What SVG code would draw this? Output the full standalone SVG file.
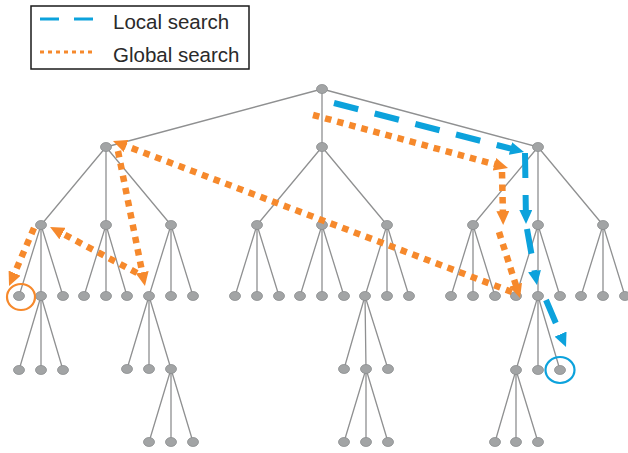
<svg xmlns="http://www.w3.org/2000/svg" width="628" height="453" viewBox="0 0 628 453">
  <style>
    .edge { stroke: #8f9091; stroke-width: 1.3; fill: none; }
    .node { fill: #a2a4a5; stroke: #8c8e8f; stroke-width: 0.8; }
    .local { stroke: #0ca2dc; stroke-width: 6; fill: none; stroke-dasharray: 25 17; }
    .global { stroke: #f6892c; stroke-width: 6.5; fill: none; stroke-dasharray: 6.5 6; }
    .legend-text { font-family: "Liberation Sans", Arial, sans-serif; font-size: 20.5px; fill: #2a2a2a; }
  </style>
  <defs>
    <marker id="head-local" markerUnits="userSpaceOnUse" markerWidth="14" markerHeight="13" refX="5" refY="6.5" orient="auto">
      <path d="M0,0 L14,6.5 L0,13 z" fill="#0ca2dc"/>
    </marker>
    <marker id="head-global" markerUnits="userSpaceOnUse" markerWidth="14" markerHeight="13" refX="5" refY="6.5" orient="auto">
      <path d="M0,0 L14,6.5 L0,13 z" fill="#f6892c"/>
    </marker>
  </defs>

  <rect width="628" height="453" fill="#ffffff"/>

  <!-- legend -->
  <g id="legend">
    <rect x="31" y="6" width="218" height="63" fill="#ffffff" stroke="#1a1a1a" stroke-width="1.5"/>
    <line x1="40" y1="19" x2="94" y2="19" stroke="#0ca2dc" stroke-width="3" stroke-dasharray="19 15"/>
    <line x1="40" y1="52" x2="94" y2="52" stroke="#f6892c" stroke-width="3" stroke-dasharray="4 4"/>
    <text class="legend-text" x="113" y="29">Local search</text>
    <text class="legend-text" x="113" y="62">Global search</text>
  </g>

  <!-- tree edges -->
  <g id="edges" class="edge">
    <path class="edge" d="M322,89 L106,147 M322,89 L322,147 M322,89 L538,147"/>
    <path class="edge" d="M106,147 L41,225 M106,147 L106,225 M106,147 L171,225
      M322,147 L257,225 M322,147 L322,225 M322,147 L387,225
      M538,147 L473,225 M538,147 L538,225 M538,147 L603,225"/>
    <path class="edge" d="M41,225 L19,296 M41,225 L41,296 M41,225 L63,296
      M106,225 L84,296 M106,225 L106,296 M106,225 L127,296
      M171,225 L149,296 M171,225 L171,296 M171,225 L193,296
      M257,225 L235,296 M257,225 L257,296 M257,225 L279,296
      M322,225 L300,296 M322,225 L322,296 M322,225 L344,296
      M387,225 L365,296 M387,225 L387,296 M387,225 L409,296
      M473,225 L451,296 M473,225 L473,296 M473,225 L495,296
      M538,225 L516,296 M538,225 L538,296 M538,225 L560,296
      M603,225 L581,296 M603,225 L603,296 M603,225 L625,296"/>
    <path class="edge" d="M41,296 L19,370 M41,296 L41,370 M41,296 L63,370
      M149,296 L127,369 M149,296 L149,369 M149,296 L171,369
      M365,296 L344,369 M365,296 L366,369 M365,296 L388,369
      M538,296 L516,370 M538,296 L538,370 M538,296 L560,370"/>
    <path class="edge" d="M171,369 L149,442 M171,369 L171,442 M171,369 L193,442
      M366,369 L344,442 M366,369 L366,442 M366,369 L388,442
      M516,370 L495,442 M516,370 L516,442 M516,370 L538,442"/>
  </g>

  <!-- nodes -->
  <g id="n-root"><ellipse class="node" cx="322" cy="89" rx="5.5" ry="4.5"/></g>

  <g id="n-1"><ellipse class="node" cx="106" cy="147" rx="5.5" ry="4.5"/></g>
  <g id="n-2"><ellipse class="node" cx="322" cy="147" rx="5.5" ry="4.5"/></g>
  <g id="n-3"><ellipse class="node" cx="538" cy="147" rx="5.5" ry="4.5"/></g>

  <g id="n-1-1"><ellipse class="node" cx="41" cy="225" rx="5.5" ry="4.5"/></g>
  <g id="n-1-2"><ellipse class="node" cx="106" cy="225" rx="5.5" ry="4.5"/></g>
  <g id="n-1-3"><ellipse class="node" cx="171" cy="225" rx="5.5" ry="4.5"/></g>
  <g id="n-2-1"><ellipse class="node" cx="257" cy="225" rx="5.5" ry="4.5"/></g>
  <g id="n-2-2"><ellipse class="node" cx="322" cy="225" rx="5.5" ry="4.5"/></g>
  <g id="n-2-3"><ellipse class="node" cx="387" cy="225" rx="5.5" ry="4.5"/></g>
  <g id="n-3-1"><ellipse class="node" cx="473" cy="225" rx="5.5" ry="4.5"/></g>
  <g id="n-3-2"><ellipse class="node" cx="538" cy="225" rx="5.5" ry="4.5"/></g>
  <g id="n-3-3"><ellipse class="node" cx="603" cy="225" rx="5.5" ry="4.5"/></g>

  <g id="n-1-1-1"><ellipse class="node" cx="19" cy="296" rx="5.5" ry="4.5"/></g>
  <g id="n-1-1-2"><ellipse class="node" cx="41" cy="296" rx="5.5" ry="4.5"/></g>
  <g id="n-1-1-3"><ellipse class="node" cx="63" cy="296" rx="5.5" ry="4.5"/></g>
  <g id="n-1-2-1"><ellipse class="node" cx="84" cy="296" rx="5.5" ry="4.5"/></g>
  <g id="n-1-2-2"><ellipse class="node" cx="106" cy="296" rx="5.5" ry="4.5"/></g>
  <g id="n-1-2-3"><ellipse class="node" cx="127" cy="296" rx="5.5" ry="4.5"/></g>
  <g id="n-1-3-1"><ellipse class="node" cx="149" cy="296" rx="5.5" ry="4.5"/></g>
  <g id="n-1-3-2"><ellipse class="node" cx="171" cy="296" rx="5.5" ry="4.5"/></g>
  <g id="n-1-3-3"><ellipse class="node" cx="193" cy="296" rx="5.5" ry="4.5"/></g>
  <g id="n-2-1-1"><ellipse class="node" cx="235" cy="296" rx="5.5" ry="4.5"/></g>
  <g id="n-2-1-2"><ellipse class="node" cx="257" cy="296" rx="5.5" ry="4.5"/></g>
  <g id="n-2-1-3"><ellipse class="node" cx="279" cy="296" rx="5.5" ry="4.5"/></g>
  <g id="n-2-2-1"><ellipse class="node" cx="300" cy="296" rx="5.5" ry="4.5"/></g>
  <g id="n-2-2-2"><ellipse class="node" cx="322" cy="296" rx="5.5" ry="4.5"/></g>
  <g id="n-2-2-3"><ellipse class="node" cx="344" cy="296" rx="5.5" ry="4.5"/></g>
  <g id="n-2-3-1"><ellipse class="node" cx="365" cy="296" rx="5.5" ry="4.5"/></g>
  <g id="n-2-3-2"><ellipse class="node" cx="387" cy="296" rx="5.5" ry="4.5"/></g>
  <g id="n-2-3-3"><ellipse class="node" cx="409" cy="296" rx="5.5" ry="4.5"/></g>
  <g id="n-3-1-1"><ellipse class="node" cx="451" cy="296" rx="5.5" ry="4.5"/></g>
  <g id="n-3-1-2"><ellipse class="node" cx="473" cy="296" rx="5.5" ry="4.5"/></g>
  <g id="n-3-1-3"><ellipse class="node" cx="495" cy="296" rx="5.5" ry="4.5"/></g>
  <g id="n-3-2-1"><ellipse class="node" cx="516" cy="296" rx="5.5" ry="4.5"/></g>
  <g id="n-3-2-2"><ellipse class="node" cx="538" cy="296" rx="5.5" ry="4.5"/></g>
  <g id="n-3-2-3"><ellipse class="node" cx="560" cy="296" rx="5.5" ry="4.5"/></g>
  <g id="n-3-3-1"><ellipse class="node" cx="581" cy="296" rx="5.5" ry="4.5"/></g>
  <g id="n-3-3-2"><ellipse class="node" cx="603" cy="296" rx="5.5" ry="4.5"/></g>
  <g id="n-3-3-3"><ellipse class="node" cx="625" cy="296" rx="5.5" ry="4.5"/></g>

  <g id="n-1-1-2-1"><ellipse class="node" cx="19" cy="370" rx="5.5" ry="4.5"/></g>
  <g id="n-1-1-2-2"><ellipse class="node" cx="41" cy="370" rx="5.5" ry="4.5"/></g>
  <g id="n-1-1-2-3"><ellipse class="node" cx="63" cy="370" rx="5.5" ry="4.5"/></g>
  <g id="n-1-3-1-1"><ellipse class="node" cx="127" cy="369" rx="5.5" ry="4.5"/></g>
  <g id="n-1-3-1-2"><ellipse class="node" cx="149" cy="369" rx="5.5" ry="4.5"/></g>
  <g id="n-1-3-1-3"><ellipse class="node" cx="171" cy="369" rx="5.5" ry="4.5"/></g>
  <g id="n-2-3-1-1"><ellipse class="node" cx="344" cy="369" rx="5.5" ry="4.5"/></g>
  <g id="n-2-3-1-2"><ellipse class="node" cx="366" cy="369" rx="5.5" ry="4.5"/></g>
  <g id="n-2-3-1-3"><ellipse class="node" cx="388" cy="369" rx="5.5" ry="4.5"/></g>
  <g id="n-3-2-2-1"><ellipse class="node" cx="516" cy="370" rx="5.5" ry="4.5"/></g>
  <g id="n-3-2-2-2"><ellipse class="node" cx="538" cy="370" rx="5.5" ry="4.5"/></g>
  <g id="n-3-2-2-3"><ellipse class="node" cx="560" cy="370" rx="5.5" ry="4.5"/></g>

  <g id="n-1-3-1-3-1"><ellipse class="node" cx="149" cy="442" rx="5.5" ry="4.5"/></g>
  <g id="n-1-3-1-3-2"><ellipse class="node" cx="171" cy="442" rx="5.5" ry="4.5"/></g>
  <g id="n-1-3-1-3-3"><ellipse class="node" cx="193" cy="442" rx="5.5" ry="4.5"/></g>
  <g id="n-2-3-1-2-1"><ellipse class="node" cx="344" cy="442" rx="5.5" ry="4.5"/></g>
  <g id="n-2-3-1-2-2"><ellipse class="node" cx="366" cy="442" rx="5.5" ry="4.5"/></g>
  <g id="n-2-3-1-2-3"><ellipse class="node" cx="388" cy="442" rx="5.5" ry="4.5"/></g>
  <g id="n-3-2-2-1-1"><ellipse class="node" cx="495" cy="442" rx="5.5" ry="4.5"/></g>
  <g id="n-3-2-2-1-2"><ellipse class="node" cx="516" cy="442" rx="5.5" ry="4.5"/></g>
  <g id="n-3-2-2-1-3"><ellipse class="node" cx="538" cy="442" rx="5.5" ry="4.5"/></g>

  <!-- target leaves -->
  <g id="target-global"><ellipse cx="21" cy="297" rx="14" ry="13" fill="none" stroke="#f6892c" stroke-width="2.2"/></g>
  <g id="target-local"><ellipse cx="560" cy="370" rx="14.5" ry="13" fill="none" stroke="#0ca2dc" stroke-width="2.2"/></g>

  <!-- search paths -->
  <g id="search-paths">
    <path class="global" marker-end="url(#head-global)" d="M313,115 L499.3,165.6"/>
    <path class="global" marker-end="url(#head-global)" d="M502,172 L503,216"/>
    <path class="global" marker-end="url(#head-global)" d="M499,232 L517.3,289.5"/>
    <path class="global" marker-end="url(#head-global)" d="M512,292 L121.4,144.2"/>
    <path class="global" marker-end="url(#head-global)" d="M118,151 L143.2,277.2"/>
    <path class="global" marker-end="url(#head-global)" d="M137,273 L58,231.2"/>
    <path class="global" marker-end="url(#head-global)" d="M34,228 L12.6,277.7"/>

    <path class="local" marker-end="url(#head-local)" d="M334,103 L515.3,149.8"/>
    <path class="local" marker-end="url(#head-local)" d="M525,153 L525.9,215"/>
    <path class="local" marker-end="url(#head-local)" d="M527,229 L535.4,276.1"/>
    <path class="local" marker-end="url(#head-local)" d="M546,300 L562.5,338.7"/>
  </g>
</svg>
